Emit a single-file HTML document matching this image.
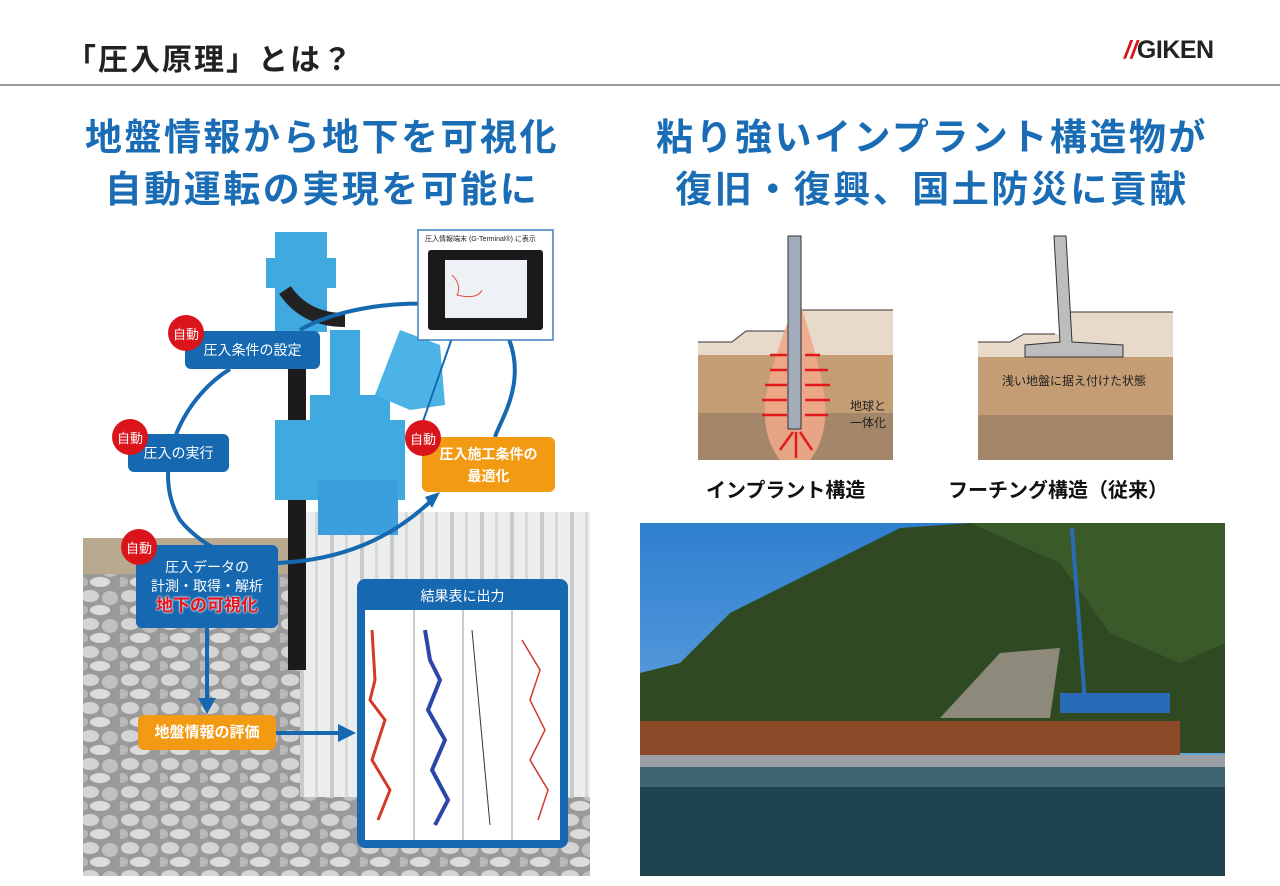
<!DOCTYPE html>
<html><head><meta charset="utf-8"><style>
*{margin:0;padding:0;box-sizing:border-box}
body{width:1280px;height:886px;background:#fff;position:relative;overflow:hidden;font-family:"Liberation Sans","Noto Sans CJK JP",sans-serif}
.a{position:absolute}
.h{color:#1a6db5;font-weight:bold;font-size:37px;text-align:center;letter-spacing:2.5px;line-height:52px;white-space:nowrap}
.bb{position:absolute;background:#1668b0;color:#fff;border-radius:6px;font-size:14px;display:flex;align-items:center;justify-content:center;text-align:center}
.ob{position:absolute;background:#f29a12;color:#fff;border-radius:6px;font-size:14px;font-weight:bold;display:flex;align-items:center;justify-content:center;text-align:center;line-height:22px}
.ci{position:absolute;width:36px;height:36px;border-radius:50%;background:#d9141b;color:#fff;font-size:13px;display:flex;align-items:center;justify-content:center}
.lbl{position:absolute;font-size:20px;font-weight:bold;color:#111}
</style></head><body>
<div class="a" style="left:66px;top:35px;font-size:30px;font-weight:bold;color:#222;letter-spacing:2px">「圧入原理」とは？</div>
<div class="a" style="left:1124px;top:36px;font-size:25px;font-weight:bold;color:#222;letter-spacing:-0.5px"><span style="color:#d9141b;font-style:italic">//</span>GIKEN</div>
<div class="a" style="left:0;top:84px;width:1280px;height:2px;background:#999"></div>

<div class="a h" style="left:22px;top:112px;width:600px">地盤情報から地下を可視化<br>自動運転の実現を可能に</div>
<div class="a h" style="left:612px;top:112px;width:640px">粘り強いインプラント構造物が<br>復旧・復興、国土防災に貢献</div>

<!-- left illustration -->
<svg class="a" style="left:0;top:0" width="640" height="886">
<defs>
<pattern id="gr" width="40" height="28" patternUnits="userSpaceOnUse">
<rect width="40" height="28" fill="#9a9a9a"/>
<ellipse cx="10" cy="8" rx="9" ry="6" fill="#d4d4d4"/>
<ellipse cx="30" cy="10" rx="8" ry="7" fill="#c0c0c0"/>
<ellipse cx="20" cy="22" rx="10" ry="5" fill="#dcdcdc"/>
<ellipse cx="2" cy="22" rx="6" ry="5" fill="#b8b8b8"/>
</pattern>
<pattern id="sp" width="30" height="10" patternUnits="userSpaceOnUse">
<rect width="30" height="10" fill="#eceded"/><rect x="0" width="4" height="10" fill="#c8cacd"/><rect x="15" width="3" height="10" fill="#d6d8da"/>
</pattern>
</defs>
<rect x="83" y="540" width="507" height="336" fill="url(#gr)"/>
<rect x="83" y="538" width="220" height="36" fill="#b8a990"/>
<rect x="300" y="512" width="290" height="285" fill="url(#sp)"/>
<!-- machine -->
<rect x="288" y="360" width="18" height="310" fill="#1b1b1b"/>
<rect x="275" y="232" width="52" height="100" fill="#3fa9e0"/>
<rect x="266" y="258" width="70" height="30" fill="#3fa9e0"/>
<path d="M285 290 q20 30 60 30" stroke="#222" stroke-width="14" fill="none"/>
<rect x="275" y="420" width="130" height="80" fill="#3fa9e0"/>
<rect x="310" y="395" width="80" height="40" fill="#3fa9e0"/>
<rect x="318" y="480" width="80" height="55" fill="#3a9fdc"/>
<path d="M375 395 L400 330 L440 345 L445 405 L410 410Z" fill="#4cb3e6"/>
<rect x="330" y="330" width="30" height="70" fill="#3fa9e0"/>
<!-- curves -->
<g stroke="#1668b0" stroke-width="4" fill="none">
<path d="M230 369 C180 400 150 470 180 520 C200 545 230 555 230 560"/>
<path d="M300 330 C350 300 470 290 505 330 C530 380 500 420 495 437"/>
<path d="M278 563 C340 560 390 540 432 500"/>
<line x1="207" y1="628" x2="207" y2="700"/>
<line x1="276" y1="733" x2="340" y2="733"/>
<line x1="452" y1="338" x2="420" y2="430" stroke-width="2"/>
</g>
<polygon points="198,698 216,698 207,714" fill="#1668b0"/>
<polygon points="338,724 338,742 356,733" fill="#1668b0"/>
<polygon points="425,497 440,492 432,508" fill="#1668b0"/>
<!-- monitor -->
<rect x="418" y="230" width="135" height="110" fill="#fff" stroke="#3d7ec0" stroke-width="1.5"/>
<rect x="428" y="250" width="115" height="80" rx="3" fill="#1a1a1a"/>
<rect x="445" y="260" width="82" height="58" fill="#eef2f6"/>
<path d="M452 275 q10 10 5 20 q20 5 25 -5" stroke="#e05040" fill="none"/>
<!-- result box -->
<rect x="357" y="579" width="211" height="269" rx="8" fill="#1668b0"/>
<rect x="365" y="610" width="195" height="230" fill="#fff"/>
<g stroke="#999" stroke-width="1"><line x1="414" y1="610" x2="414" y2="840"/><line x1="463" y1="610" x2="463" y2="840"/><line x1="512" y1="610" x2="512" y2="840"/></g>
<polyline points="372,630 375,680 370,700 385,720 372,760 390,790 378,820" stroke="#d23a2a" stroke-width="3" fill="none"/>
<polyline points="425,630 430,660 440,680 428,710 445,740 432,770 448,800 435,825" stroke="#2a47a8" stroke-width="4" fill="none"/>
<line x1="472" y1="630" x2="490" y2="825" stroke="#333"/>
<polyline points="522,640 540,670 530,700 545,730 530,760 548,790 538,820" stroke="#d23a2a" stroke-width="1.5" fill="none"/>
</svg>
<div class="a" style="left:357px;top:586px;width:211px;text-align:center;color:#fff;font-size:14px">結果表に出力</div>
<div class="a" style="left:425px;top:234px;font-size:7px;color:#222">圧入情報端末 (G-Terminal®) に表示</div>

<div class="bb" style="left:185px;top:331px;width:135px;height:38px">圧入条件の設定</div>
<div class="ci" style="left:168px;top:315px">自動</div>
<div class="bb" style="left:128px;top:434px;width:101px;height:38px">圧入の実行</div>
<div class="ci" style="left:112px;top:419px">自動</div>
<div class="ob" style="left:422px;top:437px;width:133px;height:55px">圧入施工条件の<br>最適化</div>
<div class="ci" style="left:405px;top:420px">自動</div>
<div class="bb" style="left:136px;top:545px;width:142px;height:83px;flex-direction:column;line-height:19px">圧入データの<br>計測・取得・解析<br><b style="color:#e3141b;font-size:17px;text-shadow:0 0 2px #fff,0 0 2px #fff">地下の可視化</b></div>
<div class="ci" style="left:121px;top:529px">自動</div>
<div class="ob" style="left:138px;top:715px;width:138px;height:35px;font-size:15px">地盤情報の評価</div>

<!-- right diagrams -->
<svg class="a" style="left:690px;top:230px" width="500" height="240">
<path d="M8 112 L42 112 L56 101 L110 101 L110 80 L203 80 L203 125 L8 125Z" fill="#e8dacb"/>
<path d="M8 112 L42 112 L56 101 L110 101 M110 80 L203 80" stroke="#333" fill="none"/>
<rect x="8" y="125" width="195" height="58" fill="#c49d74"/>
<rect x="8" y="183" width="195" height="47" fill="#a4876a"/>
<path d="M104 75 C80 140 60 190 90 230 L120 230 C150 190 130 140 111 75Z" fill="#f0a888" opacity=".9"/>
<g stroke="#e01a1a" stroke-width="2.5">
<line x1="80" y1="140" x2="97" y2="140"/><line x1="75" y1="155" x2="97" y2="155"/><line x1="72" y1="170" x2="97" y2="170"/><line x1="72" y1="185" x2="97" y2="185"/><line x1="80" y1="125" x2="97" y2="125"/>
<line x1="138" y1="140" x2="115" y2="140"/><line x1="140" y1="155" x2="115" y2="155"/><line x1="140" y1="170" x2="115" y2="170"/><line x1="138" y1="185" x2="115" y2="185"/><line x1="130" y1="125" x2="115" y2="125"/>
<line x1="90" y1="220" x2="103" y2="202"/><line x1="106" y1="228" x2="106" y2="202"/><line x1="122" y1="220" x2="110" y2="202"/>
</g>
<rect x="98" y="6" width="13" height="193" fill="#a3acbd" stroke="#333"/>
<text x="160" y="180" font-size="12" fill="#222" font-family="Noto Sans CJK JP">地球と</text>
<text x="160" y="197" font-size="12" fill="#222" font-family="Noto Sans CJK JP">一体化</text>
<path d="M288 112 L320 112 L334 104 L380 104 L380 82 L483 82 L483 127 L288 127Z" fill="#e8dacb"/>
<path d="M288 112 L320 112 L334 104 L365 104 M380 82 L483 82" stroke="#333" fill="none"/>
<rect x="288" y="127" width="195" height="58" fill="#c49d74"/>
<rect x="288" y="185" width="195" height="45" fill="#a4876a"/>
<path d="M364 6 L376 6 L382 112 L433 115 L433 127 L335 127 L335 115 L370 112Z" fill="#bdbdbd" stroke="#333"/>
<text x="312" y="155" font-size="12" fill="#222" font-family="Noto Sans CJK JP">浅い地盤に据え付けた状態</text>
</svg>
<div class="lbl" style="left:706px;top:474px">インプラント構造</div>
<div class="lbl" style="left:948px;top:474px">フーチング構造（従来）</div>

<!-- photo -->
<svg class="a" style="left:640px;top:523px" width="585" height="353">
<defs><linearGradient id="sk" x1="0" y1="0" x2="0" y2="1"><stop offset="0" stop-color="#2f7fd0"/><stop offset="1" stop-color="#7fb6e6"/></linearGradient></defs>
<rect width="585" height="353" fill="url(#sk)"/>
<path d="M0 150 L40 140 L90 90 L150 60 L210 30 L260 5 L330 0 L585 0 L585 230 L0 230Z" fill="#2f4a22"/>
<path d="M330 0 L585 0 L585 120 L540 140 L470 110 L420 40Z" fill="#3b5a2a"/>
<path d="M300 195 L360 130 L420 125 L410 195Z" fill="#8d8a7c"/>
<rect x="0" y="198" width="540" height="38" fill="#8a4a28"/>
<rect x="0" y="232" width="585" height="12" fill="#9aa0a3"/>
<rect x="0" y="244" width="585" height="109" fill="#1f4450"/>
<rect x="0" y="244" width="585" height="20" fill="#3d6670"/>
<line x1="432" y1="5" x2="445" y2="180" stroke="#2a6bb8" stroke-width="4"/>
<rect x="420" y="170" width="110" height="20" fill="#2a6bb8"/>
</svg>
</body></html>
